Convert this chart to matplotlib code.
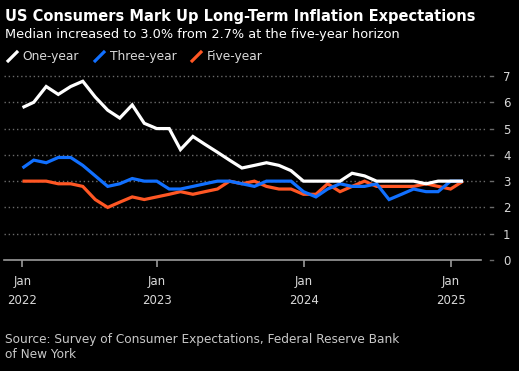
import matplotlib
matplotlib.use("Agg")
import matplotlib.pyplot as plt
import matplotlib.dates as mdates
import pandas as pd
from matplotlib.lines import Line2D

# ---- data ----
dates = pd.date_range("2022-01-31", "2025-01-31", freq="ME")
one_year = [5.8, 6.0, 6.6, 6.3, 6.6, 6.8, 6.2, 5.7, 5.4, 5.9, 5.2, 5.0,
            5.0, 4.2, 4.7, 4.4, 4.1, 3.8, 3.5, 3.6, 3.7, 3.6, 3.4, 3.0,
            3.0, 3.0, 3.0, 3.3, 3.2, 3.0, 3.0, 3.0, 3.0, 2.9, 3.0, 3.0,
            3.0]
three_year = [3.5, 3.8, 3.7, 3.9, 3.9, 3.6, 3.2, 2.8, 2.9, 3.1, 3.0, 3.0,
              2.7, 2.7, 2.8, 2.9, 3.0, 3.0, 2.9, 2.8, 3.0, 3.0, 3.0, 2.6,
              2.4, 2.7, 2.9, 2.8, 2.8, 2.9, 2.3, 2.5, 2.7, 2.6, 2.6, 3.0,
              3.0]
five_year = [3.0, 3.0, 3.0, 2.9, 2.9, 2.8, 2.3, 2.0, 2.2, 2.4, 2.3, 2.4,
             2.5, 2.6, 2.5, 2.6, 2.7, 3.0, 2.9, 3.0, 2.8, 2.7, 2.7, 2.5,
             2.5, 2.9, 2.6, 2.8, 3.0, 2.8, 2.8, 2.8, 2.8, 2.9, 2.8, 2.7,
             3.0]
series_names = ["One-year", "Three-year", "Five-year"]
y_ticks = [0, 1, 2, 3, 4, 5, 6, 7]
x_tick_dates = ["2022-01-31", "2023-01-01", "2024-01-01", "2025-01-01"]
x_tick_labels = ["Jan\n2022", "Jan\n2023", "Jan\n2024", "Jan\n2025"]

colors = ["#ffffff", "#1170ff", "#ff5724"]
BG = "#000000"
TXT = "#d9d9d9"

W, H = 519, 371
fig = plt.figure(figsize=(W / 100, H / 100), dpi=100, facecolor=BG)
ax = fig.add_axes([4 / W, 1 - 260 / H, (480.7 - 4) / W, (260 - 76) / H])
ax.set_facecolor(BG)

for vals, c in zip([five_year, three_year, one_year], colors[::-1]):
    ax.plot(dates, vals, color=c, lw=2.3, solid_joinstyle="miter",
            solid_capstyle="butt", zorder=3)

ax.set_ylim(0, 7)
ax.set_xlim(pd.Timestamp("2021-12-16"), pd.Timestamp("2025-03-16"))

# gridlines (dotted), extending slightly past axis
for v in y_ticks[1:]:
    ax.axhline(v, xmin=0, xmax=(487 - 4) / (480.7 - 4), color="#6a6a6a",
               lw=1.0, ls=(0, (1, 2)), clip_on=False, zorder=1)
for v in y_ticks:
    ax.axhline(v, xmin=(489.5 - 4) / (480.7 - 4), xmax=(493 - 4) / (480.7 - 4),
               color="#6a6a6a", lw=1.0, clip_on=False, zorder=1)

for s in ["top", "right", "left"]:
    ax.spines[s].set_visible(False)
ax.spines["bottom"].set_color("#9a9a9a")
ax.spines["bottom"].set_linewidth(1.2)

ax.yaxis.tick_right()
ax.set_yticks(y_ticks)
ax.set_yticklabels([str(v) for v in y_ticks])
ax.tick_params(axis="y", length=0, pad=16, labelsize=8.5, labelcolor=TXT)

ax.set_xticks([mdates.date2num(pd.Timestamp(d)) for d in x_tick_dates])
ax.set_xticklabels(x_tick_labels, linespacing=1.6)
ax.tick_params(axis="x", direction="out", length=5, width=1.2, color="#9a9a9a",
               labelsize=8.5, labelcolor=TXT, pad=6)

# titles
fig.text(5 / W, 1 - 16 / H, "US Consumers Mark Up Long-Term Inflation Expectations",
         color="white", fontsize=10.5, fontweight="bold", va="center", ha="left")
fig.text(5 / W, 1 - 34.5 / H, "Median increased to 3.0% from 2.7% at the five-year horizon",
         color="white", fontsize=9.25, va="center", ha="left")

# legend with slanted line icons
handles = [Line2D([], [], color=c, ls="none", marker=[(-1, -1), (1, 1)],
                  markersize=8, markeredgewidth=2.3, markeredgecolor=c)
           for c in colors]
leg = fig.legend(handles, series_names, loc="center left",
                 bbox_to_anchor=(2 / W, 1 - 56.5 / H), ncol=3, frameon=False,
                 fontsize=8.8, labelcolor=TXT, handlelength=0.8,
                 handletextpad=0.5, columnspacing=1.2, borderaxespad=0)

fig.text(5 / W, 1 - 347 / H,
         "Source: Survey of Consumer Expectations, Federal Reserve Bank\nof New York",
         color="#c8c8c8", fontsize=8.7, va="center", ha="left", linespacing=1.3)

fig.savefig("out.png", dpi=100, facecolor=BG)
